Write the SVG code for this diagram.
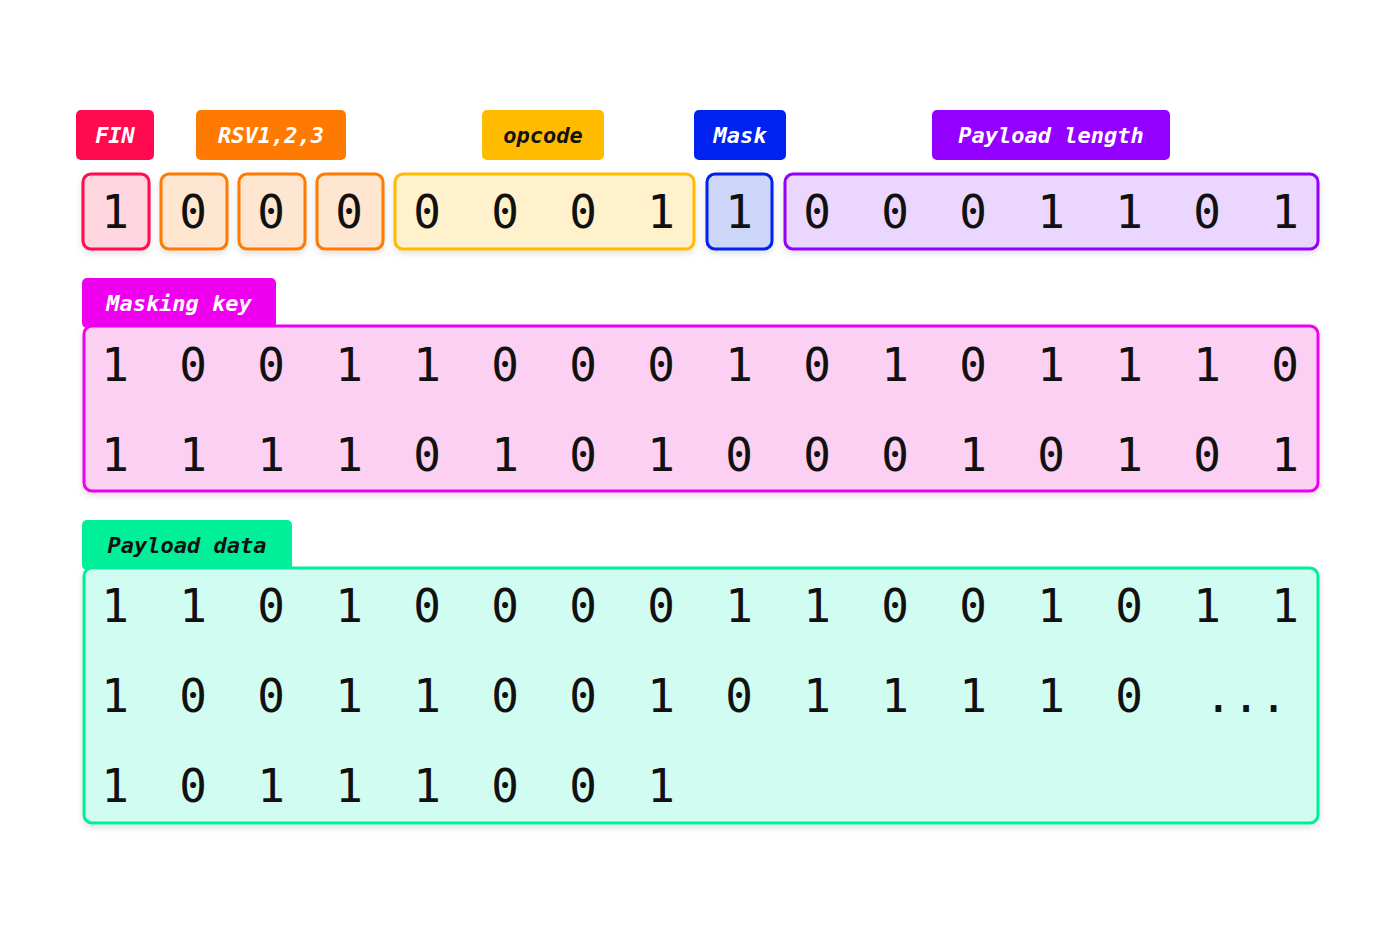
<svg xmlns="http://www.w3.org/2000/svg" width="1400" height="934" viewBox="0 0 1400 934">
<style>
.d{font-family:"DejaVu Sans Mono","Liberation Mono",monospace;font-size:46px;fill:#111;text-anchor:middle}
.l{font-family:"DejaVu Sans Mono","Liberation Mono",monospace;font-size:22px;font-weight:bold;font-style:italic;text-anchor:middle}
.b{stroke-width:3}
</style>
<defs><filter id="s" x="-10%" y="-10%" width="120%" height="130%"><feDropShadow dx="0" dy="3" stdDeviation="3" flood-opacity="0.12"/></filter></defs>
<rect width="1400" height="934" fill="#fff"/>
<g id="labels">
<g id="fin-label"><rect x="76" y="110" width="78" height="50" rx="5" fill="#ff0a4e"/><text class="l" x="115" y="143" fill="#fff">FIN</text></g>
<g id="rsv-label"><rect x="196" y="110" width="150" height="50" rx="5" fill="#ff7a00"/><text class="l" x="271" y="143" fill="#fff">RSV1,2,3</text></g>
<g id="opcode-label"><rect x="482" y="110" width="122" height="50" rx="5" fill="#ffbb00"/><text class="l" x="543" y="143" fill="#111">opcode</text></g>
<g id="mask-label"><rect x="694" y="110" width="92" height="50" rx="5" fill="#0022ee"/><text class="l" x="740" y="143" fill="#fff">Mask</text></g>
<g id="plen-label"><rect x="932" y="110" width="238" height="50" rx="5" fill="#9400ff"/><text class="l" x="1051" y="143" fill="#fff">Payload length</text></g>
</g>
<g id="row1" filter="url(#s)">
<g id="fin"><rect class="b" x="83" y="174" width="66" height="75" rx="8" fill="#ffd6df" stroke="#ff0a4e"/></g>
<g id="rsv1"><rect class="b" x="161" y="174" width="66" height="75" rx="8" fill="#ffe6d0" stroke="#ff7a00"/></g>
<g id="rsv2"><rect class="b" x="239" y="174" width="66" height="75" rx="8" fill="#ffe6d0" stroke="#ff7a00"/></g>
<g id="rsv3"><rect class="b" x="317" y="174" width="66" height="75" rx="8" fill="#ffe6d0" stroke="#ff7a00"/></g>
<g id="opcode"><rect class="b" x="395" y="174" width="299" height="75" rx="8" fill="#fff1cc" stroke="#ffbb00"/></g>
<g id="mask"><rect class="b" x="707" y="174" width="65" height="75" rx="8" fill="#ccd6f8" stroke="#0022ee"/></g>
<g id="plen"><rect class="b" x="785" y="174" width="533" height="75" rx="8" fill="#ead6ff" stroke="#9400ff"/></g>
</g>
<g id="row1-text">
<text class="d" x="115" y="228">1</text><text class="d" x="193" y="228">0</text><text class="d" x="271" y="228">0</text><text class="d" x="349" y="228">0</text>
<text class="d" x="427" y="228">0</text><text class="d" x="505" y="228">0</text><text class="d" x="583" y="228">0</text><text class="d" x="661" y="228">1</text>
<text class="d" x="739" y="228">1</text>
<text class="d" x="817" y="228">0</text><text class="d" x="895" y="228">0</text><text class="d" x="973" y="228">0</text><text class="d" x="1051" y="228">1</text><text class="d" x="1129" y="228">1</text><text class="d" x="1207" y="228">0</text><text class="d" x="1285" y="228">1</text>
</g>
<g id="masking-key">
<rect x="82" y="278" width="194" height="50" rx="5" fill="#ee00ee"/><text class="l" x="179" y="311" fill="#fff">Masking key</text>
<rect class="b" x="84" y="326" width="1234" height="165" rx="8" fill="#fbd0f3" stroke="#ee00ee" filter="url(#s)"/>
<text class="d" y="381"><tspan x="115">1</tspan><tspan x="193">0</tspan><tspan x="271">0</tspan><tspan x="349">1</tspan><tspan x="427">1</tspan><tspan x="505">0</tspan><tspan x="583">0</tspan><tspan x="661">0</tspan><tspan x="739">1</tspan><tspan x="817">0</tspan><tspan x="895">1</tspan><tspan x="973">0</tspan><tspan x="1051">1</tspan><tspan x="1129">1</tspan><tspan x="1207">1</tspan><tspan x="1285">0</tspan></text>
<text class="d" y="471"><tspan x="115">1</tspan><tspan x="193">1</tspan><tspan x="271">1</tspan><tspan x="349">1</tspan><tspan x="427">0</tspan><tspan x="505">1</tspan><tspan x="583">0</tspan><tspan x="661">1</tspan><tspan x="739">0</tspan><tspan x="817">0</tspan><tspan x="895">0</tspan><tspan x="973">1</tspan><tspan x="1051">0</tspan><tspan x="1129">1</tspan><tspan x="1207">0</tspan><tspan x="1285">1</tspan></text>
</g>
<g id="payload-data">
<rect x="82" y="520" width="210" height="50" rx="5" fill="#00f09a"/><text class="l" x="187" y="553" fill="#111">Payload data</text>
<rect class="b" x="84" y="568" width="1234" height="255" rx="8" fill="#d0fcf2" stroke="#00f09a" filter="url(#s)"/>
<text class="d" y="622"><tspan x="115">1</tspan><tspan x="193">1</tspan><tspan x="271">0</tspan><tspan x="349">1</tspan><tspan x="427">0</tspan><tspan x="505">0</tspan><tspan x="583">0</tspan><tspan x="661">0</tspan><tspan x="739">1</tspan><tspan x="817">1</tspan><tspan x="895">0</tspan><tspan x="973">0</tspan><tspan x="1051">1</tspan><tspan x="1129">0</tspan><tspan x="1207">1</tspan><tspan x="1285">1</tspan></text>
<text class="d" y="712"><tspan x="115">1</tspan><tspan x="193">0</tspan><tspan x="271">0</tspan><tspan x="349">1</tspan><tspan x="427">1</tspan><tspan x="505">0</tspan><tspan x="583">0</tspan><tspan x="661">1</tspan><tspan x="739">0</tspan><tspan x="817">1</tspan><tspan x="895">1</tspan><tspan x="973">1</tspan><tspan x="1051">1</tspan><tspan x="1129">0</tspan><tspan x="1246">...</tspan></text>
<text class="d" y="802"><tspan x="115">1</tspan><tspan x="193">0</tspan><tspan x="271">1</tspan><tspan x="349">1</tspan><tspan x="427">1</tspan><tspan x="505">0</tspan><tspan x="583">0</tspan><tspan x="661">1</tspan></text>
</g>
</svg>
